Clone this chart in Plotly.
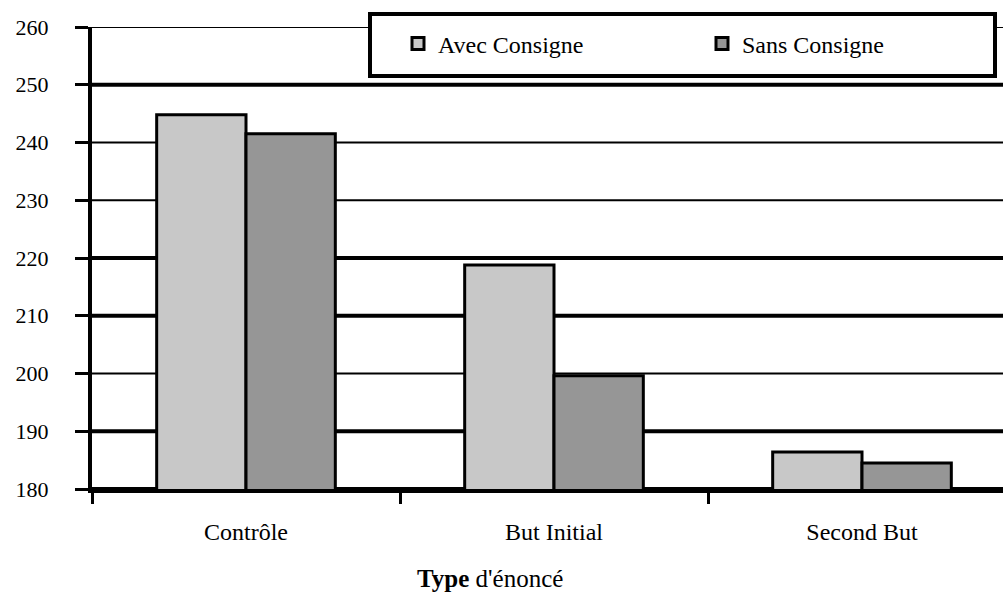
import plotly.graph_objects as go

categories = ["Contrôle", "But Initial", "Second But"]
avec_consigne = [244.8, 218.8, 186.4]
sans_consigne = [241.5, 199.6, 184.5]
y_ticks = [180, 190, 200, 210, 220, 230, 240, 250, 260]
series_names = ["Avec Consigne", "Sans Consigne"]

# visual style of grid lines (thick / thin as in the scanned original)
grid_widths = {180: 4, 190: 4, 200: 2, 210: 4, 220: 4, 230: 2, 240: 2, 250: 4, 260: 2}

FONT = "Liberation Serif, Times New Roman, serif"

fig = go.Figure()
fig.add_trace(go.Bar(
    x=categories, y=avec_consigne, name=series_names[0],
    marker=dict(color="#c8c8c8", line=dict(color="black", width=3)),
))
fig.add_trace(go.Bar(
    x=categories, y=sans_consigne, name=series_names[1],
    marker=dict(color="#969696", line=dict(color="black", width=3)),
))

for v in y_ticks:
    fig.add_shape(type="line", xref="paper", yref="y", x0=0, x1=1, y0=v, y1=v,
                  line=dict(color="black", width=grid_widths[v]), layer="below")

# legend frame
fig.add_shape(type="rect", xref="paper", yref="paper",
              x0=(370 - 92) / 911, x1=(995 - 92) / 911,
              y0=1 - 49 / 462, y1=1 + 13 / 462,
              fillcolor="white", line=dict(color="black", width=4), layer="above")

fig.add_annotation(
    text="<b>Type</b> d'énoncé", xref="paper", yref="paper",
    x=(490 - 92) / 911, y=-89 / 462, xanchor="center", yanchor="middle",
    showarrow=False, font=dict(family=FONT, size=25, color="black"),
)

fig.update_layout(
    width=1003, height=592,
    margin=dict(l=92, r=0, t=27, b=103, autoexpand=False),
    paper_bgcolor="white", plot_bgcolor="white",
    barmode="group", bargap=0.42, bargroupgap=0,
    font=dict(family=FONT, size=20, color="black"),
    showlegend=True,
    legend=dict(
        orientation="h", x=(398 - 92) / 911, y=1 - 17 / 462,
        xanchor="left", yanchor="middle",
        bgcolor="rgba(0,0,0,0)", borderwidth=0,
        entrywidth=259, entrywidthmode="pixels",
        font=dict(family=FONT, size=24, color="black"),
    ),
    xaxis=dict(
        range=[-0.5, -0.5 + 911 / 308], tickson="boundaries",
        ticks="outside", ticklen=11, tickwidth=3, tickcolor="black",
        showline=True, linecolor="black", linewidth=4, showgrid=False,
        tickfont=dict(family=FONT, size=24, color="black"),
        ticklabelstandoff=18, zeroline=False,
    ),
    yaxis=dict(
        range=[180, 260], tickvals=y_ticks,
        ticks="outside", ticklen=13, tickwidth=3, tickcolor="black",
        showline=True, linecolor="black", linewidth=4, showgrid=False,
        tickfont=dict(family=FONT, size=22, color="black"),
        ticklabelstandoff=22, zeroline=False,
    ),
)

fig.write_html(
    "out.html",
    config={"displayModeBar": False, "responsive": False},
    post_script=(
        "document.documentElement.style.margin='0';"
        "document.documentElement.style.overflow='hidden';"
        "document.body.style.margin='0';"
        "document.body.style.overflow='hidden';"
    ),
)
